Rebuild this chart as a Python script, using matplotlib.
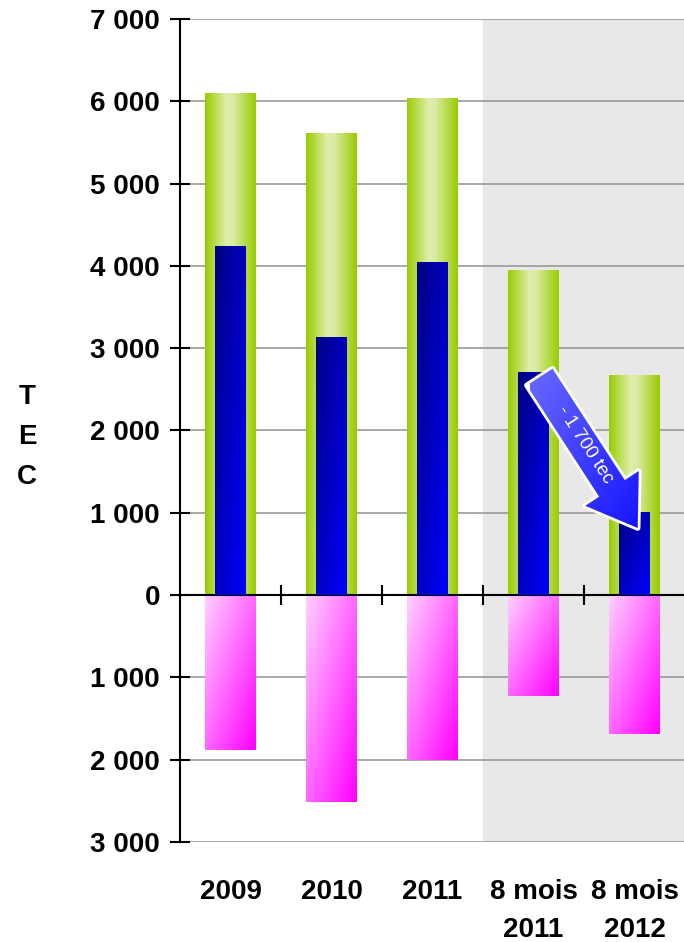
import numpy as np
import matplotlib.pyplot as plt
from matplotlib.colors import LinearSegmentedColormap
from matplotlib.patches import FancyArrowPatch
from matplotlib.ticker import FuncFormatter

plt.rcParams['font.family'] = ['Liberation Sans', 'DejaVu Sans']

# Data (TEC)
categories = ['2009', '2010', '2011', '8 mois\n2011', '8 mois\n2012']
total_tec = [6100, 5610, 6030, 3940, 2670]      # green bars
blue_tec = [4230, 3135, 4035, 2700, 1000]       # blue bars
pink_tec = [-1880, -2510, -2000, -1225, -1690]  # pink bars (below zero)

arrow_start = (3.06, 2650)
arrow_end = (4.03, 815)
arrow_label = '- 1 700 tec'

# colour ramps
green_cmap = LinearSegmentedColormap.from_list(
    'green', [(0, '#99cc00'), (0.42, '#dfeeab'), (0.55, '#dbeba6'), (1, '#99cc00')])
blue_cmap = LinearSegmentedColormap.from_list('blue', ['#000080', '#0000ff'])
pink_cmap = LinearSegmentedColormap.from_list('pink', ['#ffd0ff', '#ff00ff'])
arrow_cmap = LinearSegmentedColormap.from_list('arrow', ['#6a6aff', '#1010ff'])

fig = plt.figure(figsize=(6.84, 9.42), dpi=100)
ax = fig.add_axes([0.2632, 0.1062, 0.7385, 0.8736])

x = np.arange(len(categories))


def gradient_fill(patch, cmap, mode, zorder):
    x0, y0 = patch.get_x(), patch.get_y()
    w, h = patch.get_width(), patch.get_height()
    u = np.linspace(0, 1, 80)
    if mode == 'horizontal':
        grad = np.tile(u, (2, 1))
    else:
        v = np.linspace(0, 1, 80)
        grad = (u[None, :] + v[:, None]) / 2
    ax.imshow(grad, extent=[x0, x0 + w, min(y0, y0 + h), max(y0, y0 + h)],
              origin='upper', aspect='auto', cmap=cmap, vmin=0, vmax=1,
              clip_path=patch, zorder=zorder, interpolation='bilinear')


# shaded "8 mois" zone
ax.axvspan(2.5, 4.5, color='#e8e8e8', zorder=0)

green_bars = ax.bar(x, total_tec, 0.5, facecolor='none', edgecolor='none', zorder=2)
blue_bars = ax.bar(x, blue_tec, 0.3, facecolor='none', edgecolor='none', zorder=3)
pink_bars = ax.bar(x, pink_tec, 0.5, facecolor='none', edgecolor='none', zorder=2)

for b in green_bars:
    gradient_fill(b, green_cmap, 'horizontal', 2)
for b in blue_bars:
    gradient_fill(b, blue_cmap, 'diagonal', 3)
for b in pink_bars:
    gradient_fill(b, pink_cmap, 'diagonal', 2)

# arrow showing the drop
arrow = FancyArrowPatch(arrow_start, arrow_end,
                        arrowstyle='simple,head_length=34,head_width=46,tail_width=22',
                        mutation_scale=1, shrinkA=0, shrinkB=0,
                        fc='#3a3aff', ec='white', lw=4, zorder=6)
ax.add_patch(arrow)
ag = np.linspace(0, 1, 80)
ax.imshow((ag[None, :] + ag[:, None]) / 2,
          extent=[arrow_start[0] - 0.1, arrow_end[0] + 0.1, arrow_end[1] - 100, arrow_start[1] + 150],
          origin='upper', aspect='auto', cmap=arrow_cmap, vmin=0, vmax=1,
          clip_path=arrow, zorder=6.5, interpolation='bilinear')
ax.text((arrow_start[0] + arrow_end[0]) / 2 - 0.04, (arrow_start[1] + arrow_end[1]) / 2 + 90,
        arrow_label, rotation=-57, rotation_mode='anchor', ha='center', va='center',
        color='white', fontsize=13.5, zorder=7)

ax.set_xlim(-0.5, 4.5)
ax.set_ylim(-3000, 7000)

# axes styling
for side in ['top', 'right']:
    ax.spines[side].set_visible(False)
ax.spines['bottom'].set_position(('data', 0))
ax.spines['left'].set_linewidth(1.5)
ax.spines['bottom'].set_linewidth(1.5)

ax.set_yticks(np.arange(-3000, 7001, 1000))
ax.yaxis.set_major_formatter(FuncFormatter(lambda v, p: f'{abs(int(v)):,}'.replace(',', ' ')))
ax.tick_params(axis='y', direction='inout', length=15, width=1.5, labelsize=20, pad=7)
plt.setp(ax.get_yticklabels(), fontweight='bold')
ax.yaxis.grid(True, color='#999999', lw=1.2)
ax.set_axisbelow(True)

ax.set_xticks(x[:-1] + 0.5)
ax.set_xticklabels([])
ax.tick_params(axis='x', direction='inout', length=15, width=1.5)

for i, lab in enumerate(categories):
    ax.annotate(lab, xy=(x[i], 0), xycoords=ax.get_xaxis_transform(),
                xytext=(0, -27), textcoords='offset points', ha='center', va='top',
                fontsize=20, fontweight='bold', linespacing=1.6)

fig.text(27 / 684, 1 - 437 / 942, 'T\nE\nC', ha='center', va='center',
         fontsize=20, fontweight='bold', linespacing=1.7)

plt.savefig('out.png', dpi=100)
